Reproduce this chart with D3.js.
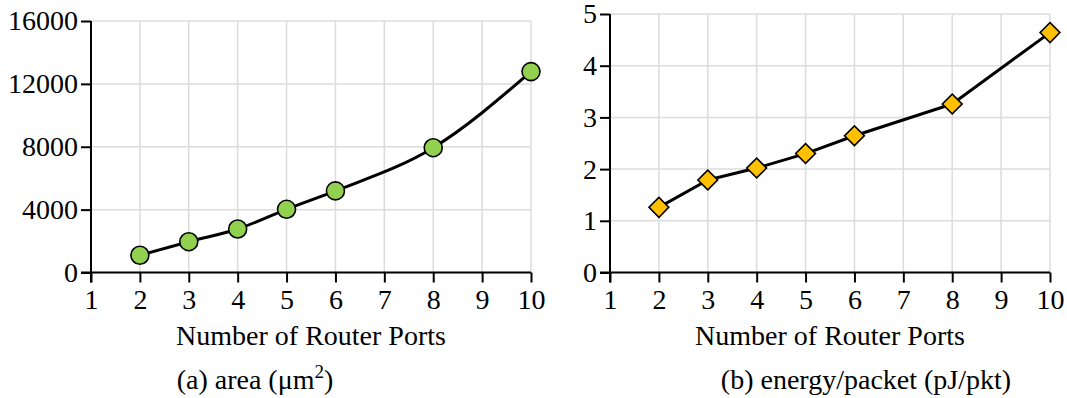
<!DOCTYPE html>
<html>
<head>
<meta charset="utf-8">
<script src="https://cdn.jsdelivr.net/npm/d3@7"></script>
<style>
  svg, svg text, svg tspan { font-family: "Liberation Serif", "Times New Roman", Tinos, serif !important; }
</style>
</head>
<body style="margin:0">
<svg id="chart" width="1067" height="398" style="font-family: 'Liberation Serif'"></svg>
<script>
// router ports on the x axis
let ports = [2, 3, 4, 5, 6, 8, 10];
let xTicks = [1, 2, 3, 4, 5, 6, 7, 8, 9, 10];

// (a) area in um^2
let areaVals = [1100, 1960, 2770, 4020, 5190, 7940, 12780];
let areaTicks = [0, 4000, 8000, 12000, 16000];

// (b) energy per packet in pJ/pkt
let energyVals = [1.26, 1.79, 2.02, 2.30, 2.645, 3.26, 4.64];
let energyTicks = [0, 1, 2, 3, 4, 5];

let FONT = "'Liberation Serif'";
let FS = 28;
let svg = d3.select('#chart');

function panel(opts) {
    let g = svg.append("g");

    let x = d3.scaleLinear().domain([1, 10]).range([opts.left, opts.left + 440]);
    let y = d3.scaleLinear().domain(opts.yDomain).range([272.5, opts.top]);

    // grid
    g.append("g").selectAll("line.v")
        .data(xTicks).enter().append("line")
        .attr("x1", d => x(d)).attr("x2", d => x(d))
        .attr("y1", y.range()[0]).attr("y2", y.range()[1])
        .attr("stroke", "#dcdcdc").attr("stroke-width", 1.5);
    g.append("g").selectAll("line.h")
        .data(opts.yTicks).enter().append("line")
        .attr("x1", x.range()[0]).attr("x2", x.range()[1])
        .attr("y1", d => y(d)).attr("y2", d => y(d))
        .attr("stroke", "#dcdcdc").attr("stroke-width", 1.5);

    // axes
    let xAxis = d3.axisBottom(x).tickValues(xTicks).tickSize(10).tickPadding(7).tickFormat(d3.format("d"));
    let yAxis = d3.axisLeft(y).tickValues(opts.yTicks).tickSize(10).tickPadding(3).tickFormat(d3.format("d"));

    let gx = g.append("g").attr("transform", "translate(0," + y.range()[0] + ")").call(xAxis);
    let gy = g.append("g").attr("transform", "translate(" + x.range()[0] + ",0)").call(yAxis);
    [gx, gy].forEach(a => {
        a.attr("font-family", null).attr("font-size", null);
        a.select(".domain").remove();
        a.selectAll("line").attr("stroke", "#000").attr("stroke-width", 2);
        a.selectAll("text").attr("fill", "#000")
            .attr("font-size", FS)
            .style("font-family", FONT);
    });
    // axis lines (x line runs a bit left, through the 0 tick)
    g.append("line")
        .attr("x1", x.range()[0] - 10).attr("x2", x.range()[1])
        .attr("y1", y.range()[0]).attr("y2", y.range()[0])
        .attr("stroke", "#000").attr("stroke-width", 2);
    g.append("line")
        .attr("x1", x.range()[0]).attr("x2", x.range()[0])
        .attr("y1", y.range()[0] + 10).attr("y2", y.range()[1])
        .attr("stroke", "#000").attr("stroke-width", 2);

    // data line
    let line = d3.line().x(d => x(d[0])).y(d => y(d[1])).curve(opts.curve);
    g.append("path")
        .datum(d3.zip(ports, opts.vals))
        .attr("d", line)
        .attr("fill", "none")
        .attr("stroke", "#000")
        .attr("stroke-width", 3)
        .attr("stroke-linejoin", "round");

    // markers
    let sym = d3.symbol().type(opts.symbol).size(opts.symbolSize);
    g.append("g").selectAll("path")
        .data(d3.zip(ports, opts.vals)).enter().append("path")
        .attr("d", sym)
        .attr("transform", d => "translate(" + x(d[0]) + "," + y(d[1]) + ")" + (opts.rotate ? " rotate(45)" : ""))
        .attr("fill", opts.color)
        .attr("stroke", "#000")
        .attr("stroke-width", 1.6);

    // x title
    g.append("text")
        .attr("x", (x.range()[0] + x.range()[1]) / 2)
        .attr("y", 345)
        .attr("text-anchor", "middle")
        .attr("font-size", FS)
        .style("font-family", FONT)
        .text("Number of Router Ports");

    // caption
    let cap = g.append("text")
        .attr("x", opts.capX)
        .attr("y", 389)
        .attr("text-anchor", "middle")
        .attr("font-size", FS)
        .style("font-family", FONT);
    opts.caption(cap);
}

panel({
    left: 91, top: 21,
    yDomain: [0, 16000], yTicks: areaTicks,
    vals: areaVals, curve: d3.curveMonotoneX,
    symbol: d3.symbolCircle, symbolSize: Math.PI * 9 * 9,
    color: "#92d050",
    capX: 255,
    caption: t => {
        t.append("tspan").text("(a) area (\u03bcm");
        t.append("tspan").attr("dy", -11).attr("font-size", 19).text("2");
        t.append("tspan").attr("dy", 11).text(")");
    }
});

panel({
    left: 610, top: 14,
    yDomain: [0, 5], yTicks: energyTicks,
    vals: energyVals, curve: d3.curveLinear,
    symbol: d3.symbolSquare, symbolSize: 14 * 14, rotate: true,
    color: "#ffc000",
    capX: 866,
    caption: t => t.text("(b) energy/packet (pJ/pkt)")
});
</script>
</body>
</html>
